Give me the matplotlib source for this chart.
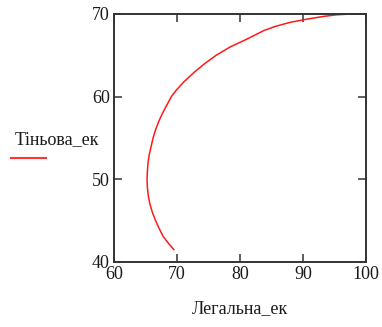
import matplotlib.pyplot as plt

# curve
legal = [69.5, 68.6, 67.8, 67.2, 66.6, 66.1, 65.7, 65.45, 65.3, 65.25, 65.3, 65.4,
         65.6, 65.9, 66.2, 66.6, 67.1, 67.7, 68.4, 69.1, 69.9, 71.1, 72.8, 74.4,
         76.2, 78.4, 81.2, 83.8, 85.6, 88.0, 90.8, 93.2, 95.3, 97.5, 100.0]
shadow = [41.5, 42.3, 43.1, 44.0, 45.0, 46.0, 47.0, 48.0, 49.0, 50.0, 51.0, 52.0,
          53.0, 54.0, 55.0, 56.0, 57.0, 58.0, 59.0, 60.0, 60.8, 61.8, 63.0, 64.0,
          65.0, 66.0, 67.0, 68.0, 68.5, 69.0, 69.4, 69.7, 69.9, 70.0, 70.0]

plt.rcParams['font.family'] = ['Liberation Serif', 'DejaVu Serif']

fig = plt.figure(figsize=(3.82, 3.27), dpi=100)
ax = fig.add_axes([114 / 382, 1 - 262 / 327, 252 / 382, 248 / 327])
ax.plot(legal, shadow, color='#ff1a1a', linewidth=1.1)

ax.set_xlim(60, 100)
ax.set_ylim(40, 70)
ax.set_xticks([60, 70, 80, 90, 100])
ax.set_yticks([40, 50, 60, 70])
ax.tick_params(direction='in', length=6, width=1.1, top=True, right=True,
               labelsize=13, colors='#333333', labelcolor='#1a1a1a', pad=3)
for s in ax.spines.values():
    s.set_linewidth(1.4)
    s.set_color('#333333')

ax.set_xlabel('Легальна_ек', fontsize=13, color='#1a1a1a', labelpad=12)

# legend-like y label on the left
fig.text(15 / 382, 1 - 140 / 327, 'Тіньова_ек', fontsize=13, color='#1a1a1a',
         va='center', ha='left')
fig.add_artist(plt.Line2D([11 / 382, 46 / 382], [1 - 158 / 327, 1 - 158 / 327],
                          color='#ff3333', linewidth=1.5))

fig.savefig('out.png', dpi=100)
